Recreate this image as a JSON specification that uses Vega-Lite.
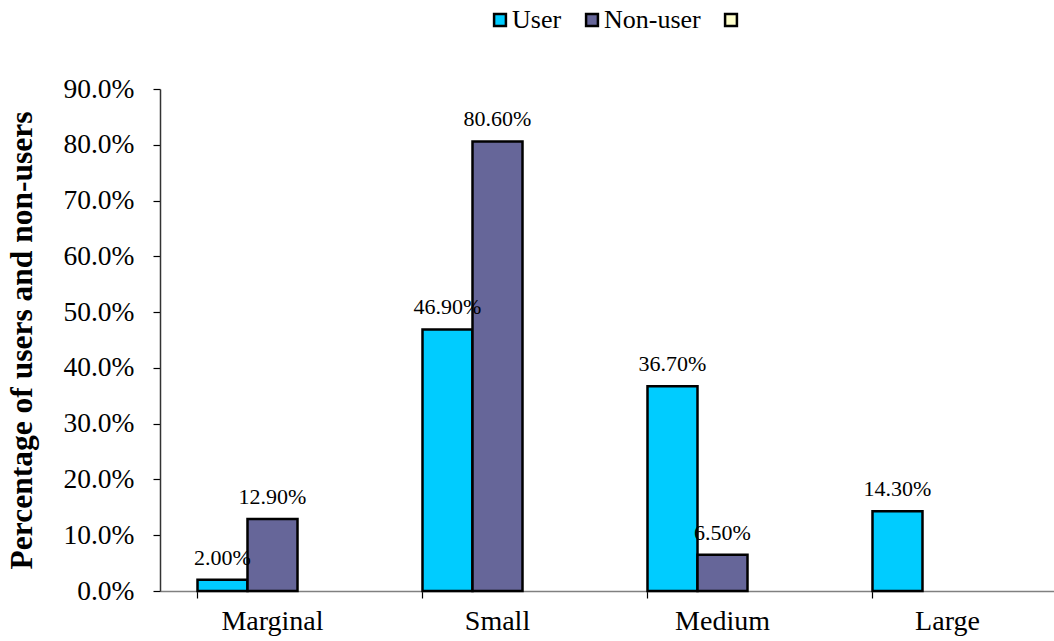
{
  "$schema": "https://vega.github.io/schema/vega-lite/v6.json",
  "autosize": "none",
  "padding": {"left": 160, "top": 89, "right": 0, "bottom": 50},
  "width": 900,
  "height": 502,
  "background": "white",
  "config": {
    "font": "Liberation Serif, Times New Roman, serif",
    "view": {"stroke": null},
    "axis": {"grid": false, "labelFont": "Liberation Serif, Times New Roman, serif", "titleFont": "Liberation Serif, Times New Roman, serif", "labelColor": "black", "titleColor": "black"}
  },
  "data": {
    "values": [
      {"size": "Marginal", "group": "User", "value": 0.02},
      {"size": "Marginal", "group": "Non-user", "value": 0.129},
      {"size": "Small", "group": "User", "value": 0.469},
      {"size": "Small", "group": "Non-user", "value": 0.806},
      {"size": "Medium", "group": "User", "value": 0.367},
      {"size": "Medium", "group": "Non-user", "value": 0.065},
      {"size": "Large", "group": "User", "value": 0.143}
    ]
  },
  "encoding": {
    "x": {
      "field": "size",
      "type": "nominal",
      "sort": ["Marginal", "Small", "Medium", "Large"],
      "scale": {"paddingInner": 0.3333, "paddingOuter": 0.16667},
      "axis": {
        "title": null,
        "labelAngle": 0,
        "labelFontSize": 28,
        "labelPadding": 9,
        "bandPosition": 0,
        "tickSize": 7,
        "tickColor": "#000000",
        "domainColor": "#808080",
        "domainWidth": 1.5,
        "tickWidth": 1.2
      }
    },
    "xOffset": {
      "field": "group",
      "type": "nominal",
      "scale": {"domain": ["User", "Non-user", " "], "paddingInner": 0, "paddingOuter": 0}
    },
    "y": {
      "field": "value",
      "type": "quantitative",
      "scale": {"domain": [0, 0.9]},
      "axis": {
        "title": "Percentage of users and non-users",
        "titleFontSize": 31.5,
        "titleFontWeight": "bold",
        "titlePadding": 24,
        "format": ".1%",
        "values": [0, 0.1, 0.2, 0.3, 0.4, 0.5, 0.6, 0.7, 0.8, 0.9],
        "labelFontSize": 27.5,
        "labelPadding": 19,
        "tickSize": 7,
        "tickColor": "#000000",
        "domainColor": "#333333",
        "domainWidth": 1.5,
        "tickWidth": 1.2
      }
    }
  },
  "layer": [
    {
      "mark": {"type": "bar", "stroke": "black", "strokeWidth": 2.5},
      "encoding": {
        "color": {
          "field": "group",
          "type": "nominal",
          "scale": {"domain": ["User", "Non-user", " "], "range": ["#00CCFF", "#666699", "#FFFFCC"]},
          "legend": {
            "title": null,
            "orient": "none",
            "direction": "horizontal",
            "legendX": 327,
            "legendY": -82,
            "symbolType": "square",
            "symbolSize": 140,
            "symbolStrokeColor": "black",
            "symbolStrokeWidth": 2.5,
            "labelFont": "Liberation Serif, Times New Roman, serif",
            "labelFontSize": 26,
            "labelColor": "black",
            "labelOffset": -1,
            "columnPadding": 17
          }
        }
      }
    },
    {
      "mark": {"type": "text", "baseline": "alphabetic", "dy": -15, "fontSize": 22, "font": "Liberation Serif, Times New Roman, serif", "color": "black"},
      "encoding": {
        "text": {"field": "value", "type": "quantitative", "format": ".2%"}
      }
    }
  ]
}
